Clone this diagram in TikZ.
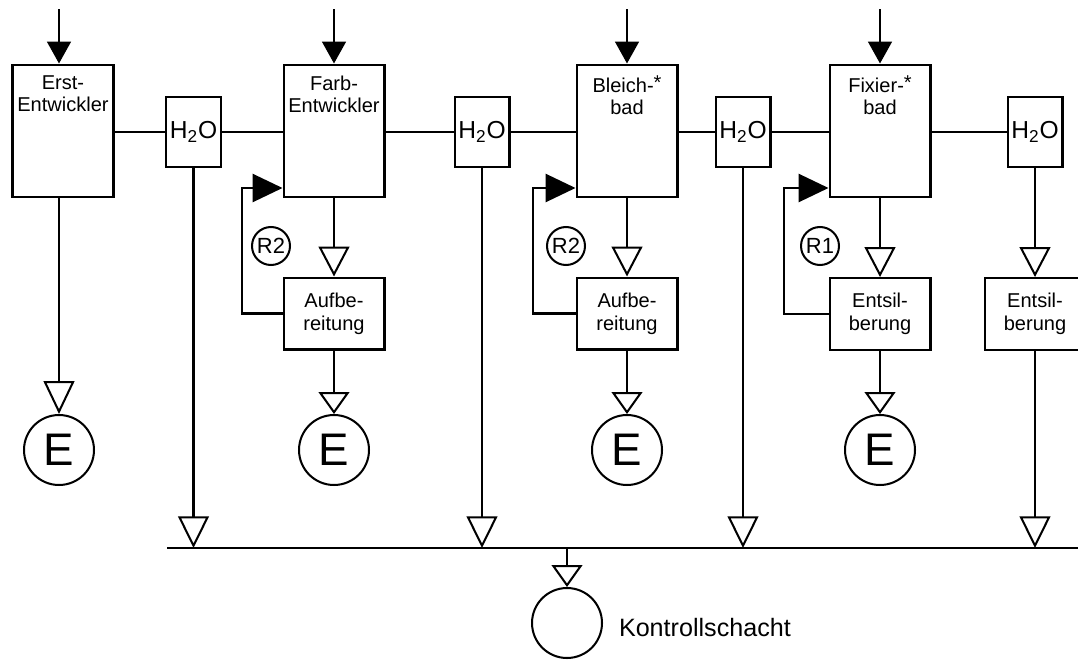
\documentclass[tikz,border=0pt]{standalone}
\usepackage{fontspec}
\setmainfont{Liberation Sans}
\usetikzlibrary{arrows.meta, positioning}

\begin{document}
\begin{tikzpicture}[x=0.02cm, y=-0.02cm, line width=1.15pt,
    tank/.style={draw, minimum width=2.02cm, minimum height=2.66cm},
    tanktext/.style={anchor=north, align=center, font=\fontsize{11.4}{12.5}\selectfont, inner sep=0pt, yshift=-6.5pt},
    wasser/.style={draw, minimum width=1.1cm, minimum height=1.4cm, inner sep=0pt, font=\fontsize{14}{15}\selectfont},
    aufb/.style={draw, minimum width=2.02cm, minimum height=1.44cm, align=center, font=\fontsize{11.4}{13}\selectfont},
    einl/.style={draw, circle, minimum size=1.4cm, inner sep=0pt, font=\fontsize{26}{26}\selectfont},
    kreis/.style={draw, circle, minimum size=0.76cm, inner sep=0pt, font=\fontsize{12.5}{12.5}\selectfont},
    zulauf/.style={-{Triangle[length=12.5pt,width=13.6pt]}},
    rueck/.style={-{Triangle[length=17pt,width=16pt]}},
    ablauf/.style={-{Triangle[open,length=#1,width=17.5pt]}},
    ablauf/.default=17pt]
    \useasboundingbox (0,0) rectangle (1078,659);

    \node[tank, label={[tanktext]north:{Erst-\\Entwickler}}] (erst) at (63,131) {};
    \node[tank, label={[tanktext]north:{Farb-\\Entwickler}}] (farb) at (334,131) {};
    \node[tank, label={[tanktext]north:{Bleich-\raisebox{1.5pt}{*}\\bad}}] (bleich) at (627,131) {};
    \node[tank, label={[tanktext]north:{Fixier-\raisebox{1.5pt}{*}\\bad}}] (fixier) at (880,131) {};

    \node[wasser] (h2o1) at (193.5,132) {H\textsubscript{2}O};
    \node[wasser] (h2o2) at (482,132) {H\textsubscript{2}O};
    \node[wasser] (h2o3) at (743,132) {H\textsubscript{2}O};
    \node[wasser] (h2o4) at (1035,132) {H\textsubscript{2}O};

    \node[aufb] (auf1) at (334,313.5) {Aufbe-\\reitung};
    \node[aufb] (auf2) at (627,313.5) {Aufbe-\\reitung};
    \node[aufb] (ents1) at (880,314) {Entsil-\\berung};
    \node[aufb] (ents2) at (1035,314) {Entsil-\\berung};

    \node[einl] (e1) at (59,450) {E};
    \node[einl] (e2) at (334,450) {E};
    \node[einl] (e3) at (627,450) {E};
    \node[einl] (e4) at (880,450) {E};

    \node[kreis] (rfarb) at (271,246) {R2};
    \node[kreis] (rbleich) at (566,246) {R2};
    \node[kreis] (rfix) at (820,246) {R1};

    \node[einl] (ks) at (567,623) {};
    \node[right=0.3cm of ks, yshift=-0.1cm, inner sep=0pt, font=\fontsize{14.3}{14}\selectfont] (kstext) {Kontrollschacht};

    \coordinate (in1) at (59,9);
    \coordinate (in2) at (334,9);
    \coordinate (in3) at (627,9);
    \coordinate (in4) at (880,9);
    \coordinate (fb1) at (242,188);
    \coordinate (fb2) at (533,188);
    \coordinate (fb3) at (784,188);
    \coordinate (busl) at (167,548);
    \coordinate (busr) at (1078,548);

    \draw[zulauf] (in1) -- (in1 |- erst.north);
    \draw[zulauf] (in2) -- (farb.north);
    \draw[zulauf] (in3) -- (bleich.north);
    \draw[zulauf] (in4) -- (fixier.north);

    \draw (erst.east |- h2o1.west) -- (h2o1.west);
    \draw (h2o1.east) -- (farb.west |- h2o1.east);
    \draw (farb.east |- h2o2.west) -- (h2o2.west);
    \draw (h2o2.east) -- (bleich.west |- h2o2.east);
    \draw (bleich.east |- h2o3.west) -- (h2o3.west);
    \draw (h2o3.east) -- (fixier.west |- h2o3.east);
    \draw (fixier.east |- h2o4.west) -- (h2o4.west);

    \draw[ablauf=18.7pt] (erst.south -| e1.north) -- (e1.north);
    \draw[ablauf] (farb.south) -- (auf1.north);
    \draw[ablauf] (bleich.south) -- (auf2.north);
    \draw[ablauf] (fixier.south) -- (ents1.north);
    \draw[ablauf] (h2o4.south) -- (ents2.north);
    \draw[ablauf=12.5pt] (auf1.south) -- (e2.north);
    \draw[ablauf=12.5pt] (auf2.south) -- (e3.north);
    \draw[ablauf=12.5pt] (ents1.south) -- (e4.north);

    \draw[rueck] (auf1.west) -| (fb1) -- (fb1 -| farb.west);
    \draw[rueck] (auf2.west) -| (fb2) -- (fb2 -| bleich.west);
    \draw[rueck] (ents1.west) -| (fb3) -- (fb3 -| fixier.west);

    \draw (busl) -- (busr);
    \draw[ablauf=18pt] (h2o1.south) -- (h2o1.south |- busl);
    \draw[ablauf=18pt] (h2o2.south) -- (h2o2.south |- busl);
    \draw[ablauf=18pt] (h2o3.south) -- (h2o3.south |- busl);
    \draw[ablauf=18pt] (ents2.south) -- (ents2.south |- busl);
    \draw[ablauf=12.5pt] (ks.north |- busl) -- (ks.north);
\end{tikzpicture}
\end{document}
